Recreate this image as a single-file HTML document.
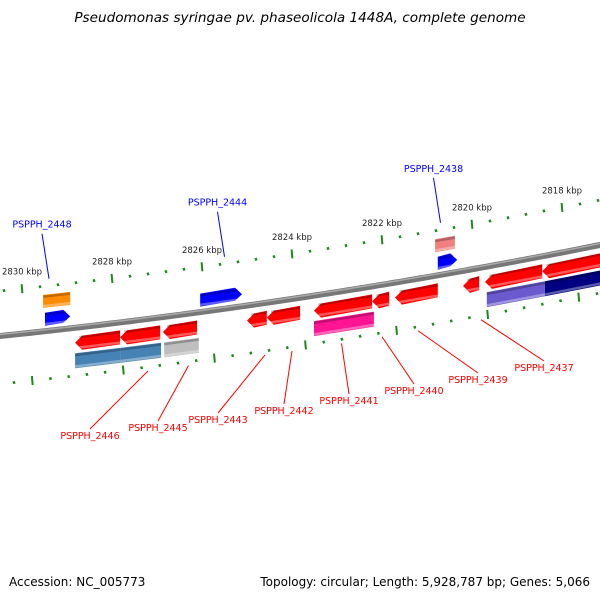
<!DOCTYPE html>
<html><head><meta charset="utf-8"><style>
html,body{margin:0;padding:0;background:#fff;}
svg{display:block;font-family:"DejaVu Sans","Liberation Sans",sans-serif;}
</style></head><body>
<svg id="map" width="600" height="600" viewBox="0 0 600 600">
<text x="300" y="22" text-anchor="middle" font-size="13.6" font-style="italic" fill="#000">Pseudomonas syringae pv. phaseolicola 1448A, complete genome</text>
<text x="9" y="586" font-size="12" fill="#000">Accession: NC_005773</text>
<text x="590" y="586" text-anchor="end" font-size="12" fill="#000">Topology: circular; Length: 5,928,787 bp; Genes: 5,066</text>
<g id="layer"></g>
</svg>
<script>
// genomic data (kbp)
const revStarts=[2828.82,2827.82,2826.87,2825.00,2824.56,2823.51,2822.22,2821.71,2820.20,2819.71,2818.44];
const revEnds  =[2827.82,2826.93,2826.11,2824.56,2823.82,2822.22,2821.84,2820.76,2819.84,2818.44,2816.70];
const cogStarts=[2828.82,2827.82,2826.84,2823.51,2819.67,2818.38];
const cogEnds  =[2827.82,2826.91,2826.07,2822.18,2818.38,2816.70];
const cogColors=["#4682b4","#4682b4","#bebebe","#ff1493","#6a5acd","#000080"];
const fwdStarts=[2829.49,2826.04,2820.76];
const fwdEnds  =[2828.93,2825.11,2820.33];
const fwdCogStarts=[2829.53,2820.82];
const fwdCogEnds  =[2828.93,2820.38];
const fwdCogColors=["#ff8c00","#f08080"];
const tickLabels=[2830,2828,2826,2824,2822,2820,2818];
const fwdNames=["PSPPH_2448","PSPPH_2444","PSPPH_2438"];
const fwdNamePos=[2829.4,2825.5,2820.7];
const revNames=["PSPPH_2446","PSPPH_2445","PSPPH_2443","PSPPH_2442","PSPPH_2441","PSPPH_2440","PSPPH_2439","PSPPH_2437"];
const revNamePos=[2827.2,2826.3,2824.6,2824.0,2822.9,2822.0,2821.2,2819.8];

const NS="http://www.w3.org/2000/svg";
const layer=document.getElementById('layer');
function X(k){return 22+(2830-k)*45;}
function BY(x){const t=x/600;return (1-t)*(1-t)*336+2*t*(1-t)*305+t*t*245;}
function mk(tag,attrs){const e=document.createElementNS(NS,tag);for(const a in attrs)e.setAttribute(a,attrs[a]);layer.appendChild(e);return e;}

let d="";for(let x=-5;x<=605;x+=5){d+=(x===-5?"M":"L")+x+","+BY(x).toFixed(2);}
let bb=mk('path',{d:d,stroke:"#777",'stroke-width':6,fill:"none"});


let bb2=mk('path',{d:d,stroke:"#aaa",'stroke-width':1.5,fill:"none",transform:"translate(0,-1.5)"});



function band(x1,x2,off,h,color,arrow,name){
  const a=Math.min(x1,x2),b=Math.max(x1,x2);
  const y1=BY(a)-off,y2=BY(b)-off,hh=h/2,ah=7;
  let pts;
  if(arrow==='L'){pts=[[a,y1],[a+ah,y1-hh],[b,y2-hh],[b,y2+hh],[a+ah,y1+hh]];}
  else if(arrow==='R'){pts=[[a,y1-hh],[b-ah,y2-hh],[b,y2],[b-ah,y2+hh],[a,y1+hh]];}
  else pts=[[a,y1-hh],[b,y2-hh],[b,y2+hh],[a,y1+hh]];
  const g=document.createElementNS(NS,'g');layer.appendChild(g);
  
  
  const p=document.createElementNS(NS,'polygon');
  p.setAttribute('points',pts.map(q=>q[0].toFixed(1)+","+q[1].toFixed(1)).join(" "));
  p.setAttribute('fill',color);g.appendChild(p);
  const top=document.createElementNS(NS,'polygon');
  const ax=arrow==='L'?a+ah*0.6:a, bx=arrow==='R'?b-ah*0.6:b;
  top.setAttribute('points',`${ax},${BY(ax)-off-hh+0.6} ${bx},${BY(bx)-off-hh+0.6} ${bx},${BY(bx)-off-hh+3} ${ax},${BY(ax)-off-hh+3}`);
  top.setAttribute('fill','rgba(0,0,0,0.25)');g.appendChild(top);
  const bot=document.createElementNS(NS,'polygon');
  bot.setAttribute('points',`${ax},${BY(ax)-off+hh-3} ${bx},${BY(bx)-off+hh-3} ${bx},${BY(bx)-off+hh-0.5} ${ax},${BY(ax)-off+hh-0.5}`);
  bot.setAttribute('fill','rgba(255,255,255,0.35)');g.appendChild(bot);
}
revStarts.forEach((s,i)=>band(X(s),X(revEnds[i]),-15,14,"#ff0000",'L','reverse-gene-'+(i+1)));
cogStarts.forEach((s,i)=>band(X(s),X(cogEnds[i]),-33,15,cogColors[i],'','reverse-cog-'+(i+1)));
fwdStarts.forEach((s,i)=>band(X(s),X(fwdEnds[i]),12,13,"#0000ff",'R','forward-gene-'+(i+1)));
fwdCogStarts.forEach((s,i)=>band(X(s),X(fwdCogEnds[i]),30,13,fwdCogColors[i],'','forward-cog-'+(i+1)));

// tick rings: every 0.4 kbp, major every 2 kbp
for(let n=0;n<=36;n++){
  const kk=2830.8-n*0.4;
  const major=(n%5===2);
  const ox=X(kk), oy=BY(ox)-45;
  const ix=ox+10+ox*0.012, iy=BY(ix)+48;
  [[ox,oy,'outer'],[ix,iy,'inner']].forEach(q=>{
    const len=major?4.5:1.3;
    const t=mk('line',{x1:q[0]-0.4,y1:q[1]-len,x2:q[0]+0.4,y2:q[1]+len,stroke:"#1a8a1a",'stroke-width':major?2:2.4});
    
    
  });
}
tickLabels.forEach(k=>{
  const x=X(k);
  const t=mk('text',{x:x,y:BY(x)-45-14,'text-anchor':'middle','font-size':8.5,fill:"#222"});
  t.textContent=k+" kbp";
  
  
});
fwdNames.forEach((n,i)=>{
  const x=X(fwdNamePos[i]), y=BY(x)-52;
  const lx=x-7, ly=y-45;
  const l=mk('line',{x1:x,y1:y,x2:lx,y2:ly,stroke:"#0000ff",'stroke-width':1});
  
  
  const t=mk('text',{x:lx,y:ly-6,'text-anchor':'middle','font-size':9.5,fill:"#0000ff"});
  t.textContent=n;
  
  
});
const revLabelX=[90,158,218,284,349,414,478,544];
const revLabelY=[439,431,423,414,404,394,383,371];
revNames.forEach((n,i)=>{
  const x=X(revNamePos[i]), y=BY(x)+52;
  const lx=revLabelX[i], ly=revLabelY[i]-10;
  const l=mk('line',{x1:x,y1:y,x2:lx,y2:ly,stroke:"#ff0000",'stroke-width':1});
  
  
  const t=mk('text',{x:lx,y:revLabelY[i],'text-anchor':'middle','font-size':9.5,fill:"#ff0000"});
  t.textContent=n;
  
  
});
</script>
</body></html>
